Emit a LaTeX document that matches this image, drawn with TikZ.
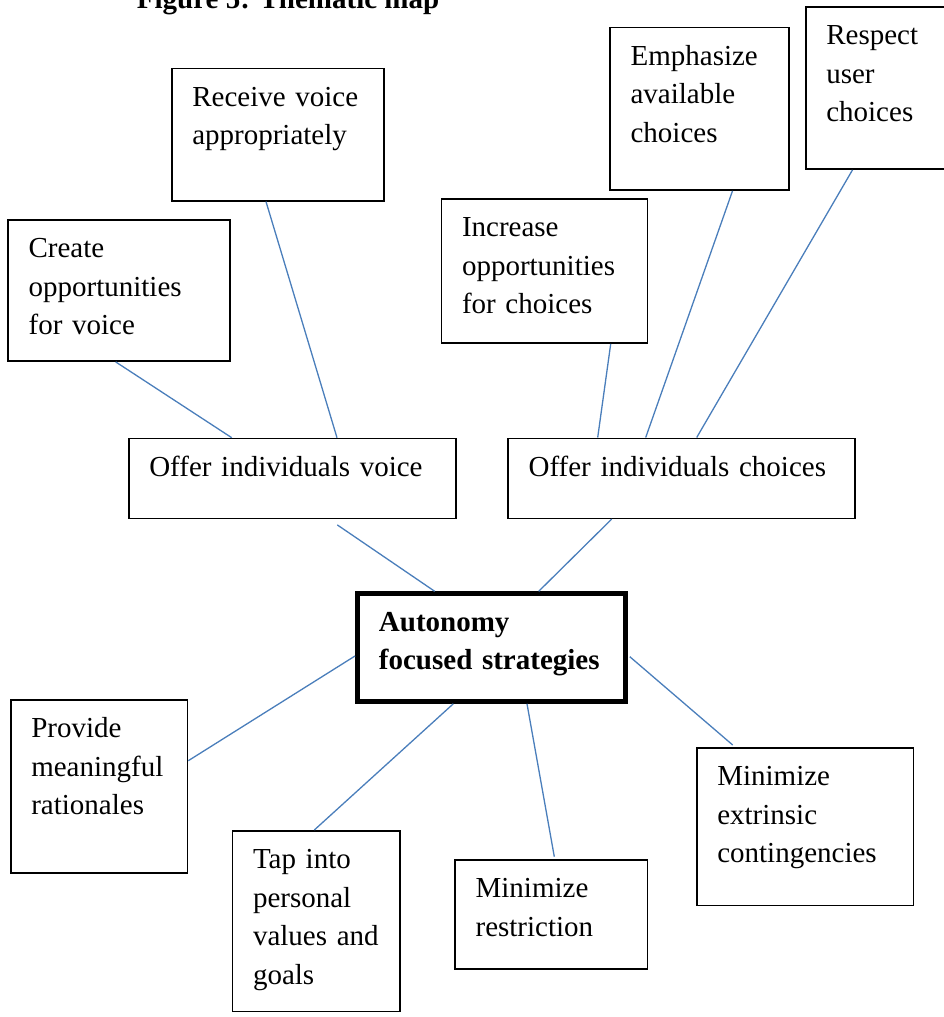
\documentclass[tikz,border=0pt]{standalone}
\usepackage{fontspec}
\setmainfont{Liberation Serif}
\usepackage{tikz}
\usetikzlibrary{arrows.meta}
\definecolor{linkblue}{RGB}{74,126,187}
\tikzset{
  box/.style 2 args={draw, line width=1.6pt, fill=white, anchor=north west, align=left,
    inner xsep=20.5pt, inner ysep=0pt, text width=#1-41pt,
    text height=37.7pt, text depth=#2-37.7pt, font=\fontsize{29}{38.5}\selectfont},
  core/.style 2 args={box={#1}{#2}, line width=4.5pt, inner xsep=21.7pt, text width=#1-43.4pt,
    font=\fontsize{29}{38.5}\selectfont\bfseries},
  link/.style={draw=linkblue, line width=1.3pt},
}

\begin{document}
\begin{tikzpicture}[x=1pt, y=-1pt]

  \useasboundingbox (0,0) rectangle (943,1017);

  %% title, cut by the top of the page
  \node[anchor=base west, inner sep=0pt, font=\fontsize{29}{38.5}\selectfont\bfseries]
    (title) at (136.7,8.5) {Figure 5: Thematic map};

  %% voice branch
  \node[box={212.3}{132.3}] (rv) at (171,67.7) {Receive voice\\appropriately};
  \node[box={222}{141.3}]   (cv) at (7.3,219) {Create\\opportunities\\for voice};
  \node[box={327}{79.8}]    (ov) at (128,437.7) {Offer individuals voice};

  %% choice branch
  \node[box={206}{144}]     (ic) at (440.7,198.3) {Increase\\opportunities\\for choices};
  \node[box={179}{162.6}]   (ea) at (609.3,26.7) {Emphasize\\available\\choices};
  \node[box={160}{162.3}]   (ru) at (805,6) {Respect\\user\\choices};
  \node[box={346.7}{80}]    (oc) at (507.3,437.5) {Offer individuals choices};

  %% centre
  \node[core={268.3}{108}]  (afs) at (355,591.3) {Autonomy\\focused strategies};

  %% lower strategies
  \node[box={176.7}{173}]   (pmr) at (10,699.3) {Provide\\meaningful\\rationales};
  \node[box={167.3}{180.7}] (tpv) at (231.7,830) {Tap into\\personal\\values and\\goals};
  \node[box={192.4}{109}]   (mr)  at (454.3,859.3) {Minimize\\restriction};
  \node[box={216.7}{157.4}] (mec) at (696,747.3) {Minimize\\extrinsic\\contingencies};

  %% connectors
  \draw[link] ([xshift=108.4pt]cv.south west) -- ([xshift=103.7pt]ov.north west);
  \draw[link] ([xshift=95pt]rv.south west) -- ([xshift=209pt]ov.north west);
  \draw[link] ([xshift=170pt]ic.south west) -- ([xshift=90.4pt]oc.north west);
  \draw[link] ([xshift=123.2pt]ea.south west) -- ([xshift=138.4pt]oc.north west);
  \draw[link] ([xshift=47.5pt]ru.south west) -- ([xshift=189.4pt]oc.north west);
  \draw[link] ([shift={(209.3,5.8)}]ov.south west) -- ([xshift=79.7pt]afs.north west);
  \draw[link] ([xshift=104.4pt]oc.south west) -- ([xshift=183.7pt]afs.north west);
  \draw[link] ([shift={(0,64.7)}]afs.north west) -- ([shift={(0,61.4)}]pmr.north east);
  \draw[link] ([xshift=98.3pt]afs.south west) -- ([xshift=82.6pt]tpv.north west);
  \draw[link] ([xshift=172pt]afs.south west) -- ([shift={(100,-2.6)}]mr.north west);
  \draw[link] ([shift={(2,65.4)}]afs.north east) -- ([shift={(36.7,-2.3)}]mec.north west);

\end{tikzpicture}
\end{document}
